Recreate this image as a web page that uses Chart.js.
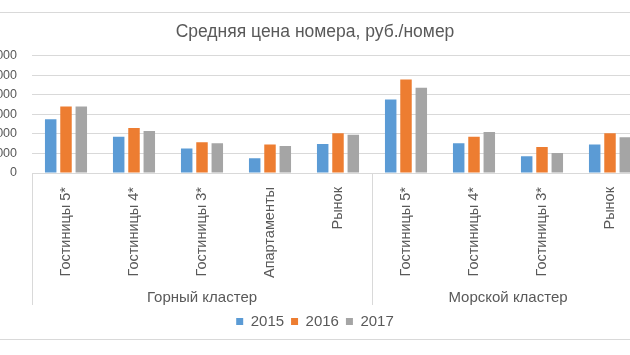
<!DOCTYPE html>
<html>
<head>
<meta charset="utf-8">
<script src="https://cdn.jsdelivr.net/npm/chart.js@4"></script>
<style>
html,body{margin:0;padding:0;background:#fff;overflow:hidden;width:630px;height:355px;}
#wrap{position:absolute;left:-60px;top:12px;width:750px;height:328px;border:1px solid #D9D9D9;box-sizing:border-box;background:#fff;}
#c{display:block;}
</style>
</head>
<body>
<div id="wrap"><canvas id="c" width="748" height="326"></canvas></div>
<script>
const titleText = 'Средняя цена номера, руб./номер';
const categories = ['Гостиницы 5*','Гостиницы 4*','Гостиницы 3*','Апартаменты','Рынок','Гостиницы 5*','Гостиницы 4*','Гостиницы 3*','Рынок'];
const groupNames = ['Горный кластер','Морской кластер'];
const groupSizes = [5,4];
const years = ['2015','2016','2017'];
const s2015 = [5500,3700,2500,1500,2970,7500,3050,1700,2900];
const s2016 = [6800,4600,3150,2900,4070,9550,3700,2650,4050];
const s2017 = [6800,4300,3050,2760,3900,8700,4200,2050,3650];
const yTicks = [0,2000,4000,6000,8000,10000,12000];
const colors = ['#5B9BD5','#ED7D31','#A5A5A5'];
const FONT = '"Liberation Sans", Arial, sans-serif';
const TXT = '#595959';

const groupPlugin = {
  id:'groups',
  afterDraw(chart){
    const x = chart.scales.x, ctx = chart.ctx;
    const top = chart.chartArea.bottom, bottom = 292;
    ctx.save();
    ctx.strokeStyle = '#D9D9D9'; ctx.lineWidth = 1;
    let idx = 0;
    const bounds = [x.left];
    groupSizes.forEach(n => { idx += n; const b = idx < categories.length ? (x.getPixelForValue(idx-1)+x.getPixelForValue(idx))/2 : x.right; bounds.push(b); });
    bounds.forEach(b => { const px = Math.round(b)+0.5; ctx.beginPath(); ctx.moveTo(px, top); ctx.lineTo(px, bottom); ctx.stroke(); });
    ctx.fillStyle = TXT; ctx.font = '15px ' + FONT; ctx.textAlign='center'; ctx.textBaseline='middle';
    let s = 0;
    groupNames.forEach((g,i) => {
      const a = x.getPixelForValue(s), e = x.getPixelForValue(s+groupSizes[i]-1);
      ctx.fillText(g, (a+e)/2, 285);
      s += groupSizes[i];
    });
    ctx.restore();
  }
};

new Chart(document.getElementById('c'), {
  type:'bar',
  data:{
    labels: categories,
    datasets: years.map((y,i)=>({label:y, data:[s2015,s2016,s2017][i], backgroundColor:colors[i], categoryPercentage:0.675, barPercentage:0.75, yAxisID:'y'}))
  },
  options:{
    responsive:false, animation:false,
    layout:{padding:0},
    plugins:{
      title:{display:true, text:titleText, color:TXT, font:{family:FONT,size:17.5,weight:'normal'}, padding:{top:9,bottom:12.5}},
      legend:{position:'bottom', labels:{color:TXT, font:{family:FONT,size:15}, boxWidth:7, boxHeight:7, padding:7}},
      tooltip:{enabled:false}
    },
    scales:{
      x:{
        grid:{display:false, drawTicks:false},
        border:{color:'#D9D9D9'},
        ticks:{color:TXT, font:{family:FONT,size:14.5}, minRotation:90, maxRotation:90, autoSkip:false, padding:14},
        afterFit(s){ s.height = 134; }
      },
      y:{
        min:0, max:12000,
        afterBuildTicks(s){ s.ticks = yTicks.map(v=>({value:v})); },
        grid:{color:'#D9D9D9', drawTicks:false},
        border:{display:false},
        ticks:{color:TXT, font:{family:FONT,size:12.5}, padding:15, callback:v=>String(v)},
        afterFit(s){ s.width = 91; }
      },
      yR:{
        type:'linear', position:'right', min:0, max:12000,
        grid:{display:false, drawTicks:false},
        border:{display:false},
        ticks:{display:false},
        afterFit(s){ s.width = 45; }
      }
    }
  },
  plugins:[groupPlugin]
});
</script>
</body>
</html>
